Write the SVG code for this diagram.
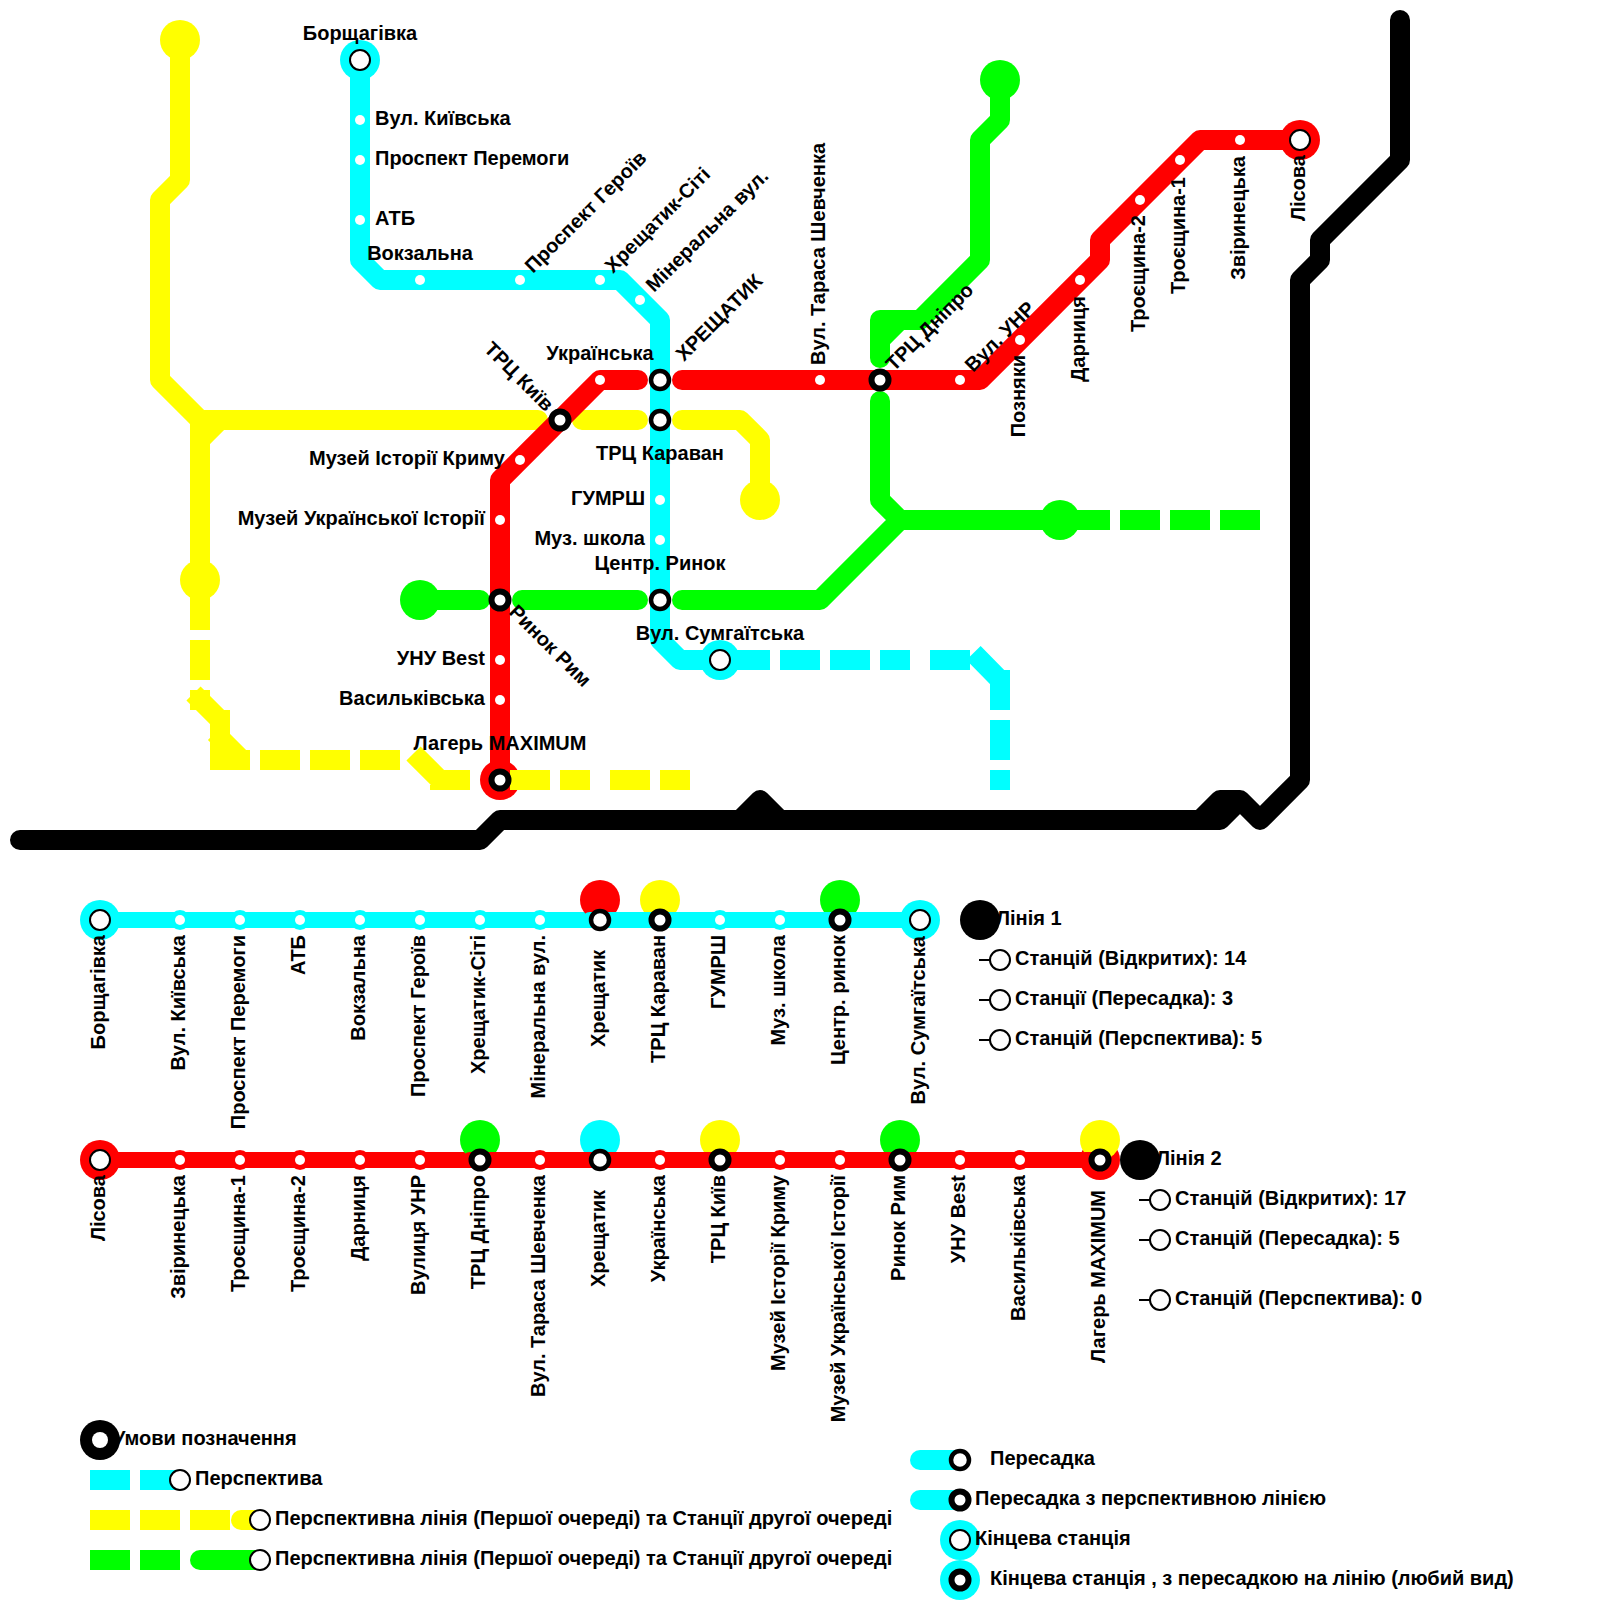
<svg xmlns="http://www.w3.org/2000/svg" width="1600" height="1600" viewBox="0 0 1600 1600">
<style>
text{font-family:"Liberation Sans",Arial,sans-serif;font-weight:bold;font-size:20px;fill:#000}
.m{text-anchor:middle}.e{text-anchor:end}
.l{fill:none;stroke-width:20;stroke-linecap:round;stroke-linejoin:round}
.s{fill:none;stroke-width:16;stroke-linecap:round}
.b{fill:none;stroke-width:20;stroke-linecap:butt;stroke-linejoin:miter}
.cy{stroke:#0ff}.re{stroke:#f00}.ye{stroke:#ff0}.gr{stroke:#0f0}.bk{stroke:#000}
.fcy{fill:#0ff}.fre{fill:#f00}.fye{fill:#ff0}.fgr{fill:#0f0}.fbk{fill:#000}
.d{fill:#fff}
.tm{fill:#fff;stroke:#000;stroke-width:2}
.th{fill:#fff;stroke:#000;stroke-width:4.500}
.tk{fill:#fff;stroke:#000;stroke-width:6}
.tick{stroke:#000;stroke-width:2}
</style>
<rect width="1600" height="1600" fill="#fff"/>
<g id="connectors">
<path class="l bk" d="M1400 20V160L1320 240V260L1300 280V780L1260 820L1240 800H1220L1200 820M1240 800L1220 820H780L760 800L740 820H500L480 840H20M780 820H740"/>
<path class="l ye" d="M180 40V180L160 200V380L200 420H538M220 420L200 440M200 420V600"/>
<path class="b ye" d="M200 590V630M200 640V680M200 690V710M193.500 693.500L220 720M220 710V750M215 733L242 760M210 760H250M260 760H300M310 760H350M360 760H400M413.500 753.500L440 780M430 780H470M510 780H550M560 780H590M610 780H650M660 780H690"/>
<path class="l ye" d="M582 420H638M682 420H740L760 440V500"/>
<path class="l gr" d="M1000 80V120L980 140V260L920 320H880V358M880 340L900 320M880 401V500L900 520H1100M420 600H480M522 600H638M682 600H820L900 520"/>
<path class="b gr" d="M1090 520H1110M1120 520H1160M1170 520H1210M1220 520H1260"/>
<path class="l re" d="M1300 140H1200L1100 240V260L980 380H682M638 380H600L500 480V780"/>
<path class="l cy" d="M360 60V260L380 280H620L660 320V640L680 660H730"/>
<path class="b cy" d="M730 660H770M780 660H820M830 660H870M880 660H910M930 660H970M973.500 653L1000 680M1000 670V710M1000 720V760M1000 770V790"/>
<path class="s cy" d="M100 920H920"/>
<path class="s re" d="M100 1160H1100"/>
</g>
<g id="map-decor">
<circle class="fye" cx="180" cy="40" r="20"/><circle class="fye" cx="200" cy="580" r="20"/><circle class="fye" cx="760" cy="500" r="20"/>
<circle class="fgr" cx="1000" cy="80" r="20"/><circle class="fgr" cx="1060" cy="520" r="20"/><circle class="fgr" cx="420" cy="600" r="20"/>
</g>
<g id="st-borshchahivka"><circle class="fcy" cx="360" cy="60" r="20"/><circle class="tm" cx="360" cy="60" r="10"/><text class="m" x="360" y="40">Борщагівка</text></g>
<g id="st-kyivska"><circle class="d" cx="360" cy="120" r="5"/><text x="375" y="125">Вул. Київська</text></g>
<g id="st-peremohy"><circle class="d" cx="360" cy="160" r="5"/><text x="375" y="165">Проспект Перемоги</text></g>
<g id="st-atb"><circle class="d" cx="360" cy="220" r="5"/><text x="375" y="225">АТБ</text></g>
<g id="st-vokzalna"><circle class="d" cx="420" cy="280" r="5"/><text class="m" x="420" y="260">Вокзальна</text></g>
<g id="st-heroiv"><circle class="d" cx="520" cy="280" r="5"/><text transform="translate(533 274) rotate(-45)">Проспект Героїв</text></g>
<g id="st-city"><circle class="d" cx="600" cy="280" r="5"/><text transform="translate(613 274) rotate(-45)">Хрещатик-Сіті</text></g>
<g id="st-mineralna"><circle class="d" cx="640" cy="300" r="5"/><text transform="translate(654 293) rotate(-45)">Мінеральна вул.</text></g>
<g id="st-ukrainska"><circle class="d" cx="600" cy="380" r="5"/><text class="m" x="600" y="360">Українська</text></g>
<g id="st-khreshchatyk"><circle class="th" cx="660" cy="380" r="9"/><text transform="translate(684 362) rotate(-45)">ХРЕЩАТИК</text></g>
<g id="st-karavan"><circle class="th" cx="660" cy="420" r="9"/><text class="m" x="660" y="460">ТРЦ Караван</text></g>
<g id="st-trc-kyiv"><circle class="tk" cx="560" cy="420" r="8.500"/><text transform="translate(483 350) rotate(45)">ТРЦ Київ</text></g>
<g id="st-krym"><circle class="d" cx="520" cy="460" r="5"/><text class="e" x="505" y="465">Музей Історії Криму</text></g>
<g id="st-hist"><circle class="d" cx="500" cy="520" r="5"/><text class="e" x="485" y="525">Музей Української Історії</text></g>
<g id="st-humrsh"><circle class="d" cx="660" cy="500" r="5"/><text class="e" x="645" y="505">ГУМРШ</text></g>
<g id="st-muz"><circle class="d" cx="660" cy="540" r="5"/><text class="e" x="645" y="545">Муз. школа</text></g>
<g id="st-center"><circle class="th" cx="660" cy="600" r="9"/><text class="m" x="660" y="570">Центр. Ринок</text></g>
<g id="st-rynok-rym"><circle class="tk" cx="500" cy="600" r="8.500"/><text transform="translate(508 613) rotate(45)">Ринок Рим</text></g>
<g id="st-sumhait"><circle class="fcy" cx="720" cy="660" r="20"/><circle class="tm" cx="720" cy="660" r="10"/><text class="m" x="720" y="640">Вул. Сумгаїтська</text></g>
<g id="st-unu"><circle class="d" cx="500" cy="660" r="5"/><text class="e" x="485" y="665">УНУ Best</text></g>
<g id="st-vasylkivska"><circle class="d" cx="500" cy="700" r="5"/><text class="e" x="485" y="705">Васильківська</text></g>
<g id="st-maximum"><circle class="fre" cx="500" cy="780" r="20"/><path class="b ye" d="M510 780H550"/><circle class="tk" cx="500" cy="780" r="8.500"/><text class="m" x="500" y="750">Лагерь MAXIMUM</text></g>
<g id="st-shevchenka"><circle class="d" cx="820" cy="380" r="5"/><text transform="translate(825 365) rotate(-90)">Вул. Тараса Шевченка</text></g>
<g id="st-dnipro"><circle class="tk" cx="880" cy="380" r="8.500"/><text transform="translate(894 372) rotate(-45)">ТРЦ Дніпро</text></g>
<g id="st-unr"><circle class="d" cx="960" cy="380" r="5"/><text transform="translate(973 373) rotate(-45)">Вул. УНР</text></g>
<g id="st-pozniaky"><circle class="d" cx="1020" cy="340" r="5"/><text class="e" transform="translate(1025 355) rotate(-90)">Позняки</text></g>
<g id="st-darnytsia"><circle class="d" cx="1080" cy="280" r="5"/><text class="e" transform="translate(1085 296) rotate(-90)">Дарниця</text></g>
<g id="st-tr2"><circle class="d" cx="1140" cy="200" r="5"/><text class="e" transform="translate(1145 215) rotate(-90)">Троєщина-2</text></g>
<g id="st-tr1"><circle class="d" cx="1180" cy="160" r="5"/><text class="e" transform="translate(1185 177) rotate(-90)">Троєщина-1</text></g>
<g id="st-zvirynetska"><circle class="d" cx="1240" cy="140" r="5"/><text class="e" transform="translate(1245 156) rotate(-90)">Звіринецька</text></g>
<g id="st-lisova"><circle class="fre" cx="1300" cy="140" r="20"/><circle class="tm" cx="1300" cy="140" r="10"/><text class="e" transform="translate(1305 155) rotate(-90)">Лісова</text></g>

<g id="line1-strip">
<circle class="fre" cx="600" cy="900" r="20"/><circle class="fye" cx="660" cy="900" r="20"/><circle class="fgr" cx="840" cy="900" r="20"/>
<path class="s cy" d="M590 920H860"/>
<g id="l1-borshchahivka"><circle class="fcy" cx="100" cy="920" r="20"/><circle class="tm" cx="100" cy="920" r="10"/><text class="e" transform="translate(105 935) rotate(-90)">Борщагівка</text></g>
<g id="l1-kyivska"><circle class="fcy" cx="180" cy="920" r="10"/><circle class="d" cx="180" cy="920" r="5"/><text class="e" transform="translate(185 935) rotate(-90)">Вул. Київська</text></g>
<g id="l1-peremohy"><circle class="fcy" cx="240" cy="920" r="10"/><circle class="d" cx="240" cy="920" r="5"/><text class="e" transform="translate(245 935) rotate(-90)">Проспект Перемоги</text></g>
<g id="l1-atb"><circle class="fcy" cx="300" cy="920" r="10"/><circle class="d" cx="300" cy="920" r="5"/><text class="e" transform="translate(305 935) rotate(-90)">АТБ</text></g>
<g id="l1-vokzalna"><circle class="fcy" cx="360" cy="920" r="10"/><circle class="d" cx="360" cy="920" r="5"/><text class="e" transform="translate(365 935) rotate(-90)">Вокзальна</text></g>
<g id="l1-heroiv"><circle class="fcy" cx="420" cy="920" r="10"/><circle class="d" cx="420" cy="920" r="5"/><text class="e" transform="translate(425 935) rotate(-90)">Проспект Героїв</text></g>
<g id="l1-city"><circle class="fcy" cx="480" cy="920" r="10"/><circle class="d" cx="480" cy="920" r="5"/><text class="e" transform="translate(485 935) rotate(-90)">Хрещатик-Сіті</text></g>
<g id="l1-mineralna"><circle class="fcy" cx="540" cy="920" r="10"/><circle class="d" cx="540" cy="920" r="5"/><text class="e" transform="translate(545 935) rotate(-90)">Мінеральна вул.</text></g>
<g id="l1-khreshchatyk"><circle class="th" cx="600" cy="920" r="9"/><text class="e" transform="translate(605 950) rotate(-90)">Хрещатик</text></g>
<g id="l1-karavan"><circle class="tk" cx="660" cy="920" r="8.500"/><text class="e" transform="translate(665 935) rotate(-90)">ТРЦ Караван</text></g>
<g id="l1-humrsh"><circle class="fcy" cx="720" cy="920" r="10"/><circle class="d" cx="720" cy="920" r="5"/><text class="e" transform="translate(725 935) rotate(-90)">ГУМРШ</text></g>
<g id="l1-muz"><circle class="fcy" cx="780" cy="920" r="10"/><circle class="d" cx="780" cy="920" r="5"/><text class="e" transform="translate(785 935) rotate(-90)">Муз. школа</text></g>
<g id="l1-center"><circle class="tk" cx="840" cy="920" r="8.500"/><text class="e" transform="translate(845 935) rotate(-90)">Центр. ринок</text></g>
<g id="l1-sumhait"><circle class="fcy" cx="920" cy="920" r="20"/><circle class="tm" cx="920" cy="920" r="10"/><text class="e" transform="translate(925 936) rotate(-90)">Вул. Сумгаїтська</text></g>
</g>
<g id="line1-info">
<text x="996" y="925">Лінія 1</text><circle class="fbk" cx="980" cy="920" r="20"/>
<path class="tick" d="M979 960H990M979 1000H990M979 1040H990"/>
<circle class="tm" cx="1000" cy="960" r="10"/><text x="1015" y="965">Станцій (Відкритих): 14</text>
<circle class="tm" cx="1000" cy="1000" r="10"/><text x="1015" y="1005">Станції (Пересадка): 3</text>
<circle class="tm" cx="1000" cy="1040" r="10"/><text x="1015" y="1045">Станцій (Перспектива): 5</text>
</g>

<g id="line2-strip">
<circle class="fgr" cx="480" cy="1140" r="20"/><circle class="fcy" cx="600" cy="1140" r="20"/><circle class="fye" cx="720" cy="1140" r="20"/><circle class="fgr" cx="900" cy="1140" r="20"/>
<path class="s re" d="M470 1160H1000"/>
<g id="l2-lisova"><circle class="fre" cx="100" cy="1160" r="20"/><circle class="tm" cx="100" cy="1160" r="10"/><text class="e" transform="translate(105 1175) rotate(-90)">Лісова</text></g>
<g id="l2-zvirynetska"><circle class="fre" cx="180" cy="1160" r="10"/><circle class="d" cx="180" cy="1160" r="5"/><text class="e" transform="translate(185 1175) rotate(-90)">Звіринецька</text></g>
<g id="l2-tr1"><circle class="fre" cx="240" cy="1160" r="10"/><circle class="d" cx="240" cy="1160" r="5"/><text class="e" transform="translate(245 1175) rotate(-90)">Троєщина-1</text></g>
<g id="l2-tr2"><circle class="fre" cx="300" cy="1160" r="10"/><circle class="d" cx="300" cy="1160" r="5"/><text class="e" transform="translate(305 1175) rotate(-90)">Троєщина-2</text></g>
<g id="l2-darnytsia"><circle class="fre" cx="360" cy="1160" r="10"/><circle class="d" cx="360" cy="1160" r="5"/><text class="e" transform="translate(365 1175) rotate(-90)">Дарниця</text></g>
<g id="l2-unr"><circle class="fre" cx="420" cy="1160" r="10"/><circle class="d" cx="420" cy="1160" r="5"/><text class="e" transform="translate(425 1175) rotate(-90)">Вулиця УНР</text></g>
<g id="l2-dnipro"><circle class="tk" cx="480" cy="1160" r="8.500"/><text class="e" transform="translate(485 1175) rotate(-90)">ТРЦ Дніпро</text></g>
<g id="l2-shevchenka"><circle class="fre" cx="540" cy="1160" r="10"/><circle class="d" cx="540" cy="1160" r="5"/><text class="e" transform="translate(545 1175) rotate(-90)">Вул. Тараса Шевченка</text></g>
<g id="l2-khreshchatyk"><circle class="th" cx="600" cy="1160" r="9"/><text class="e" transform="translate(605 1190) rotate(-90)">Хрещатик</text></g>
<g id="l2-ukrainska"><circle class="fre" cx="660" cy="1160" r="10"/><circle class="d" cx="660" cy="1160" r="5"/><text class="e" transform="translate(665 1175) rotate(-90)">Українська</text></g>
<g id="l2-trc-kyiv"><circle class="tk" cx="720" cy="1160" r="8.500"/><text class="e" transform="translate(725 1175) rotate(-90)">ТРЦ Київ</text></g>
<g id="l2-krym"><circle class="fre" cx="780" cy="1160" r="10"/><circle class="d" cx="780" cy="1160" r="5"/><text class="e" transform="translate(785 1175) rotate(-90)">Музей Історії Криму</text></g>
<g id="l2-hist"><circle class="fre" cx="840" cy="1160" r="10"/><circle class="d" cx="840" cy="1160" r="5"/><text class="e" transform="translate(845 1175) rotate(-90)">Музей Української Історії</text></g>
<g id="l2-rym"><circle class="tk" cx="900" cy="1160" r="8.500"/><text class="e" transform="translate(905 1175) rotate(-90)">Ринок Рим</text></g>
<g id="l2-unu"><circle class="fre" cx="960" cy="1160" r="10"/><circle class="d" cx="960" cy="1160" r="5"/><text class="e" transform="translate(965 1175) rotate(-90)">УНУ Best</text></g>
<g id="l2-vasylkivska"><circle class="fre" cx="1020" cy="1160" r="10"/><circle class="d" cx="1020" cy="1160" r="5"/><text class="e" transform="translate(1025 1175) rotate(-90)">Васильківська</text></g>
<g id="l2-maximum"><circle class="fre" cx="1100" cy="1160" r="20"/><circle class="fye" cx="1100" cy="1140" r="20"/><path class="s re" d="M1085 1160H1100"/><circle class="tk" cx="1100" cy="1160" r="8.500"/><text class="e" transform="translate(1105 1190) rotate(-90)">Лагерь MAXIMUM</text></g>
</g>
<g id="line2-info">
<text x="1156" y="1165">Лінія 2</text><circle class="fbk" cx="1140" cy="1160" r="20"/>
<path class="tick" d="M1139 1200H1150M1139 1240H1150M1139 1300H1150"/>
<circle class="tm" cx="1160" cy="1200" r="10"/><text x="1175" y="1205">Станцій (Відкритих): 17</text>
<circle class="tm" cx="1160" cy="1240" r="10"/><text x="1175" y="1245">Станцій (Пересадка): 5</text>
<circle class="tm" cx="1160" cy="1300" r="10"/><text x="1175" y="1305">Станцій (Перспектива): 0</text>
</g>

<g id="legend">
<text x="113" y="1445">Умови позначення</text><circle class="fbk" cx="100" cy="1440" r="20"/><circle class="d" cx="100" cy="1440" r="8"/>
<path class="b cy" d="M90 1480H130M140 1480H180"/><circle class="tm" cx="180" cy="1480" r="10"/><text x="195" y="1485">Перспектива</text>
<path class="b ye" d="M90 1520H130M140 1520H180M190 1520H230"/><path class="l ye" d="M241 1520H260"/><circle class="tm" cx="260" cy="1520" r="10"/><text x="275" y="1525">Перспективна лінія (Першої очереді) та Станції другої очереді</text>
<path class="b gr" d="M90 1560H130M140 1560H180"/><path class="l gr" d="M200 1560H260"/><circle class="tm" cx="260" cy="1560" r="10"/><text x="275" y="1565">Перспективна лінія (Першої очереді) та Станції другої очереді</text>
<path class="l cy" d="M920 1460H960"/><circle class="th" cx="960" cy="1460" r="9"/><text x="990" y="1465">Пересадка</text>
<path class="l cy" d="M920 1500H960"/><circle class="tk" cx="960" cy="1500" r="8.500"/><text x="975" y="1505">Пересадка з перспективною лінією</text>
<circle class="fcy" cx="960" cy="1540" r="20"/><circle class="tm" cx="960" cy="1540" r="10"/><text x="975" y="1545">Кінцева станція</text>
<circle class="fcy" cx="960" cy="1580" r="20"/><circle class="tk" cx="960" cy="1580" r="8.500"/><text x="990" y="1585">Кінцева станція , з пересадкою на лінію (любий вид)</text>
</g>
</svg>
